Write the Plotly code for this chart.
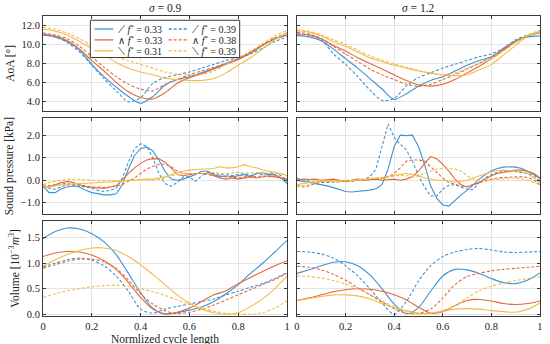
import plotly.graph_objects as go

# ---------------- data ----------------
X21 = [0, 0.05, 0.1, 0.15, 0.2, 0.25, 0.3, 0.35, 0.4, 0.45, 0.5,
       0.55, 0.6, 0.65, 0.7, 0.75, 0.8, 0.85, 0.9, 0.95, 1.0]
X41 = [0, 0.025, 0.05, 0.075, 0.1, 0.125, 0.15, 0.175, 0.2, 0.225, 0.25,
       0.275, 0.3, 0.325, 0.35, 0.375, 0.4, 0.425, 0.45, 0.475, 0.5,
       0.525, 0.55, 0.575, 0.6, 0.625, 0.65, 0.675, 0.7, 0.725, 0.75,
       0.775, 0.8, 0.825, 0.85, 0.875, 0.9, 0.925, 0.95, 0.975, 1.0]

legend_labels = ["⟋ <i>f</i><sup>*</sup> = 0.33", "⟋ <i>f</i><sup>*</sup> = 0.39",
                 "∧ <i>f</i><sup>*</sup> = 0.33", "∧ <i>f</i><sup>*</sup> = 0.38",
                 "⟍ <i>f</i><sup>*</sup> = 0.31", "⟍ <i>f</i><sup>*</sup> = 0.39"]
panel_titles = ["<i>σ</i> = 0.9", "<i>σ</i> = 1.2"]
y_titles = ["AoA [°]", "Sound pressure [kPa]", "Volume [10<sup>−3</sup><i>m</i><sup>3</sup>]"]
x_title = "Normlized cycle length"

# AoA, sigma = 0.9 (left)
aoa_L_b1 = [11.0, 10.8, 10.3, 9.4, 7.9, 6.6, 5.5, 4.5, 3.8, 4.5, 5.7, 6.3, 6.6, 7.0, 7.5, 8.0, 8.5, 9.1, 9.9, 10.6, 11.0]
aoa_L_b2 = [11.0, 10.8, 10.2, 9.2, 7.8, 6.4, 5.1, 3.95, 4.4, 5.9, 6.5, 6.8, 7.1, 7.5, 7.9, 8.3, 8.6, 9.0, 9.6, 10.3, 10.8]
aoa_L_o1 = [11.1, 10.9, 10.4, 9.5, 8.3, 7.2, 6.0, 5.0, 4.4, 4.25, 4.9, 5.9, 6.5, 6.9, 7.4, 7.9, 8.4, 9.1, 9.9, 10.6, 11.0]
aoa_L_o2 = [11.2, 11.0, 10.6, 9.8, 8.7, 7.6, 6.6, 5.8, 5.3, 5.1, 5.8, 6.3, 6.8, 7.2, 7.6, 8.0, 8.5, 9.2, 10.0, 10.7, 11.2]
aoa_L_y1 = [11.6, 11.4, 11.0, 10.3, 9.6, 8.9, 8.1, 7.5, 7.1, 6.8, 6.45, 6.3, 6.2, 6.2, 6.4, 7.0, 7.8, 8.6, 9.5, 10.5, 11.3]
aoa_L_y2 = [11.8, 11.6, 11.2, 10.6, 9.9, 9.2, 8.7, 8.3, 7.9, 7.5, 7.1, 6.85, 6.8, 6.85, 7.2, 7.9, 8.6, 9.3, 10.1, 10.9, 11.5]
# AoA, sigma = 1.2 (right)
aoa_R_b1 = [10.93, 10.8, 10.4, 9.5, 8.5, 7.5, 6.4, 5.3, 4.2, 4.8, 5.6, 6.2, 6.6, 7.2, 7.8, 8.3, 8.7, 9.6, 10.4, 10.8, 10.9]
aoa_R_b2 = [11.1, 11.0, 10.5, 9.0, 7.9, 6.6, 5.2, 4.1, 4.3, 5.6, 6.5, 7.0, 7.5, 7.9, 8.3, 8.7, 9.0, 9.6, 10.5, 11.0, 11.3]
aoa_R_o1 = [11.1, 11.0, 10.6, 9.9, 9.3, 8.6, 8.0, 7.4, 6.8, 6.2, 5.75, 5.6, 5.8, 6.3, 7.0, 7.7, 8.5, 9.4, 10.3, 10.9, 11.2]
aoa_R_o2 = [11.3, 11.1, 10.6, 9.8, 9.0, 8.2, 7.4, 6.8, 6.3, 5.8, 5.6, 5.8, 6.3, 6.8, 7.4, 8.0, 8.7, 9.5, 10.3, 10.9, 11.35]
aoa_R_y1 = [11.45, 11.3, 10.9, 10.3, 9.8, 9.2, 8.6, 8.2, 7.8, 7.5, 7.2, 7.0, 6.8, 6.7, 6.8, 7.3, 7.9, 8.9, 9.9, 10.9, 11.3]
aoa_R_y2 = [11.55, 11.4, 11.0, 10.5, 10.0, 9.4, 8.8, 8.35, 7.95, 7.6, 7.25, 6.95, 6.8, 7.0, 7.5, 8.0, 8.5, 9.3, 10.2, 11.0, 11.5]

# Sound pressure, sigma = 0.9 (left)
sp_L_b1 = [-0.25, -0.55, -0.55, -0.38, -0.3, -0.26, -0.3, -0.45, -0.55, -0.6, -0.65, -0.65, -0.6, -0.2, 0.5, 1.1, 1.4, 1.48, 1.3, 0.9, 0.4,
           0.05, 0.0, 0.05, 0.15, 0.25, 0.4, 0.4, 0.25, 0.15, 0.2, 0.15, 0.2, 0.25, 0.15, 0.3, 0.33, 0.25, 0.25, 0.1, -0.15]
sp_L_b2 = [-0.3, -0.35, -0.4, -0.3, -0.2, -0.22, -0.25, -0.3, -0.35, -0.45, -0.5, -0.45, -0.35, 0.1, 0.8, 1.4, 1.62, 1.5, 1.0, 0.3, -0.15,
           -0.27, -0.1, 0.15, 0.15, -0.05, 0.2, 0.35, 0.3, 0.25, 0.3, 0.2, 0.25, 0.3, 0.2, 0.3, 0.25, 0.3, 0.35, 0.2, 0.0]
sp_L_o1 = [-0.3, -0.3, -0.2, -0.1, -0.05, -0.1, -0.2, -0.28, -0.32, -0.35, -0.36, -0.3, -0.25, 0.0, 0.3, 0.55, 0.75, 0.9, 0.96, 0.95, 0.8,
           0.55, 0.25, 0.2, 0.25, 0.3, 0.3, 0.3, 0.2, 0.1, 0.05, 0.1, 0.05, 0.1, 0.15, 0.1, 0.15, 0.2, 0.15, 0.1, 0.05]
sp_L_o2 = [-0.2, -0.25, -0.2, -0.15, -0.15, -0.2, -0.2, -0.25, -0.3, -0.3, -0.32, -0.3, -0.25, -0.2, -0.05, 0.1, 0.3, 0.5, 0.62, 0.7, 0.72,
           0.6, 0.4, 0.3, 0.28, 0.3, 0.3, 0.25, 0.2, 0.2, 0.15, 0.15, 0.1, 0.15, 0.2, 0.15, 0.2, 0.15, 0.2, 0.1, 0.0]
sp_L_y1 = [-0.35, -0.3, -0.25, -0.2, -0.2, -0.15, -0.15, -0.15, -0.12, -0.1, -0.1, -0.08, -0.05, -0.05, -0.02, 0.0, 0.03, 0.05, 0.05, 0.1, 0.15,
           0.25, 0.33, 0.4, 0.45, 0.48, 0.5, 0.5, 0.52, 0.6, 0.55, 0.55, 0.6, 0.7, 0.6, 0.55, 0.45, 0.4, 0.35, 0.3, 0.2]
sp_L_y2 = [-0.2, -0.1, -0.05, 0.0, 0.05, 0.05, 0.03, 0.0, 0.0, -0.02, -0.03, -0.03, -0.02, 0.0, 0.0, 0.02, 0.03, 0.0, 0.0, 0.03, 0.1,
           0.2, 0.25, 0.3, 0.3, 0.3, 0.28, 0.3, 0.35, 0.3, 0.3, 0.32, 0.35, 0.3, 0.32, 0.35, 0.35, 0.3, 0.3, 0.3, 0.2]
# Sound pressure, sigma = 1.2 (right)
sp_R_b1 = [0.0, -0.05, -0.1, -0.12, -0.18, -0.25, -0.33, -0.42, -0.5, -0.52, -0.5, -0.48, -0.44, -0.38, -0.2, 0.5, 1.5, 2.0, 1.98, 2.0, 1.5,
           0.7, -0.25, -0.8, -1.1, -1.15, -0.88, -0.65, -0.45, -0.2, 0.05, 0.25, 0.42, 0.52, 0.58, 0.6, 0.58, 0.52, 0.4, 0.25, 0.08]
sp_R_b2 = [0.08, 0.0, -0.05, -0.08, -0.1, -0.1, -0.08, -0.05, -0.05, -0.06, 0.0, 0.05, 0.15, 0.5, 1.5, 2.5, 1.9, 1.6, 1.35, 0.85, 0.2,
           -0.3, -0.7, -0.7, -0.4, -0.22, -0.2, -0.3, -0.4, -0.42, -0.1, 0.1, 0.25, 0.35, 0.38, 0.4, 0.38, 0.35, 0.3, 0.2, -0.05]
sp_R_o1 = [0.0, 0.05, 0.03, 0.05, 0.0, 0.03, 0.05, 0.0, -0.03, 0.0, 0.05, 0.0, 0.03, 0.05, 0.0, 0.03, 0.05, 0.0, 0.05, 0.15, 0.4,
           0.75, 1.05, 0.95, 0.7, 0.4, 0.05, -0.2, -0.3, -0.2, -0.1, 0.05, 0.2, 0.3, 0.35, 0.4, 0.45, 0.45, 0.4, 0.3, 0.1]
sp_R_o2 = [-0.2, -0.3, -0.25, -0.15, -0.1, -0.05, -0.05, -0.03, -0.05, -0.02, 0.0, 0.02, 0.03, 0.05, 0.08, 0.15, 0.3, 0.55, 0.85, 0.9, 0.9,
           0.85, 0.6, 0.35, 0.1, -0.1, -0.18, -0.25, -0.28, -0.2, -0.1, -0.02, 0.05, 0.1, 0.12, 0.15, 0.15, 0.15, 0.12, 0.0, -0.2]
sp_R_y1 = [-0.2, -0.15, -0.1, -0.05, -0.05, -0.03, -0.05, -0.05, 0.0, -0.02, 0.0, 0.03, 0.05, 0.1, 0.12, 0.18, 0.22, 0.28, 0.3, 0.25, 0.2,
           0.1, 0.05, 0.0, 0.0, -0.05, -0.08, -0.05, 0.0, 0.1, 0.2, 0.3, 0.38, 0.42, 0.45, 0.42, 0.4, 0.38, 0.3, 0.1, -0.15]
sp_R_y2 = [-0.3, -0.25, -0.2, -0.1, -0.05, -0.05, -0.05, -0.02, 0.0, 0.0, 0.02, 0.05, 0.08, 0.1, 0.1, 0.15, 0.2, 0.22, 0.2, 0.15, 0.2,
           0.3, 0.42, 0.5, 0.52, 0.52, 0.5, 0.4, 0.2, 0.05, 0.0, 0.0, 0.02, 0.05, 0.05, 0.08, 0.1, 0.05, 0.0, -0.1, -0.2]

# Volume, sigma = 0.9 (left)
vol_L_b1 = [1.48, 1.62, 1.69, 1.67, 1.58, 1.42, 1.17, 0.8, 0.42, 0.12, 0.0, 0.03, 0.08, 0.14, 0.25, 0.4, 0.58, 0.8, 1.0, 1.22, 1.45]
vol_L_b2 = [0.93, 1.0, 1.07, 1.1, 1.06, 0.95, 0.75, 0.45, 0.1, 0.02, 0.1, 0.15, 0.2, 0.25, 0.3, 0.38, 0.45, 0.53, 0.6, 0.7, 0.82]
vol_L_o1 = [1.13, 1.2, 1.23, 1.22, 1.16, 1.05, 0.88, 0.62, 0.33, 0.1, 0.01, 0.04, 0.12, 0.25, 0.38, 0.46, 0.6, 0.72, 0.84, 0.95, 1.05]
vol_L_o2 = [0.9, 0.97, 1.04, 1.08, 1.08, 1.03, 0.9, 0.67, 0.4, 0.2, 0.07, 0.01, 0.04, 0.1, 0.18, 0.28, 0.38, 0.48, 0.58, 0.68, 0.8]
vol_L_y1 = [0.95, 1.07, 1.17, 1.25, 1.3, 1.3, 1.25, 1.13, 0.97, 0.78, 0.58, 0.38, 0.22, 0.1, 0.03, 0.0, 0.03, 0.15, 0.3, 0.5, 0.75]
vol_L_y2 = [0.33, 0.4, 0.46, 0.5, 0.54, 0.56, 0.57, 0.55, 0.5, 0.44, 0.37, 0.28, 0.2, 0.12, 0.06, 0.02, 0.0, 0.0, 0.03, 0.12, 0.26]
# Volume, sigma = 1.2 (right)
vol_R_b1 = [0.8, 0.87, 0.95, 1.02, 1.03, 0.95, 0.77, 0.5, 0.2, 0.01, 0.13, 0.45, 0.75, 0.88, 0.87, 0.8, 0.7, 0.62, 0.6, 0.67, 0.81]
vol_R_b2 = [1.23, 1.22, 1.18, 1.1, 0.95, 0.75, 0.5, 0.22, 0.0, 0.25, 0.65, 0.95, 1.13, 1.22, 1.27, 1.29, 1.26, 1.22, 1.21, 1.22, 1.23]
vol_R_o1 = [0.27, 0.32, 0.38, 0.44, 0.48, 0.5, 0.49, 0.45, 0.38, 0.28, 0.14, 0.02, 0.05, 0.17, 0.27, 0.29, 0.26, 0.21, 0.19, 0.21, 0.26]
vol_R_o2 = [0.94, 0.92, 0.87, 0.78, 0.67, 0.52, 0.38, 0.24, 0.11, 0.02, 0.02, 0.1, 0.32, 0.58, 0.74, 0.8, 0.85, 0.88, 0.9, 0.92, 0.94]
vol_R_y1 = [0.27, 0.31, 0.35, 0.38, 0.38, 0.36, 0.3, 0.21, 0.13, 0.07, 0.02, 0.02, 0.06, 0.1, 0.11, 0.1, 0.07, 0.05, 0.04, 0.1, 0.22]
vol_R_y2 = [0.75, 0.74, 0.71, 0.66, 0.59, 0.5, 0.39, 0.26, 0.14, 0.05, 0.0, 0.02, 0.07, 0.17, 0.32, 0.46, 0.55, 0.61, 0.66, 0.7, 0.73]

xticks = [0, 0.2, 0.4, 0.6, 0.8, 1]
xticklabels = ["0", "0.2", "0.4", "0.6", "0.8", "1"]
row_yticks = [[4, 6, 8, 10, 12], [-1, 0, 1, 2], [0, 0.5, 1, 1.5]]
row_yranges = [[3, 13], [-1.5, 2.75], [-0.035, 1.83]]

# ---------------- styling ----------------
COLORS = ["#3D93D4", "#E2693B", "#F1BC45"]
DASHES = ["solid", "3px,2px"]
FONT = "Liberation Serif, DejaVu Serif, serif"
AX_COL = "#3a3a3a"
GRID = "#e4e4e4"
TXT = "#222"

series = [
    [[aoa_L_b1, aoa_L_b2, aoa_L_o1, aoa_L_o2, aoa_L_y1, aoa_L_y2],
     [aoa_R_b1, aoa_R_b2, aoa_R_o1, aoa_R_o2, aoa_R_y1, aoa_R_y2]],
    [[sp_L_b1, sp_L_b2, sp_L_o1, sp_L_o2, sp_L_y1, sp_L_y2],
     [sp_R_b1, sp_R_b2, sp_R_o1, sp_R_o2, sp_R_y1, sp_R_y2]],
    [[vol_L_b1, vol_L_b2, vol_L_o1, vol_L_o2, vol_L_y1, vol_L_y2],
     [vol_R_b1, vol_R_b2, vol_R_o1, vol_R_o2, vol_R_y1, vol_R_y2]],
]
row_x = [X21, X41, X21]
row_shape = ["spline", "linear", "spline"]

fig = go.Figure()

x_domains = [[0.0, 0.491], [0.511, 1.0]]
y_domains = [[0.684, 1.0], [0.34, 0.659], [0.0, 0.317]]

layout = {}
for r in range(3):
    for c in range(2):
        idx = r * 2 + c + 1
        xa = "x" if idx == 1 else f"x{idx}"
        ya = "y" if idx == 1 else f"y{idx}"
        for k, vals in enumerate(series[r][c]):
            fig.add_trace(go.Scatter(
                x=row_x[r], y=vals, mode="lines", xaxis=xa, yaxis=ya,
                line=dict(color=COLORS[k // 2], width=1.1, dash=DASHES[k % 2],
                          shape=row_shape[r], smoothing=0.8),
                showlegend=False, hoverinfo="skip"))
        common = dict(showline=True, linecolor=AX_COL, linewidth=1, mirror="ticks",
                      ticks="inside", ticklen=3, tickcolor=AX_COL,
                      showgrid=True, gridcolor=GRID, gridwidth=1, zeroline=False,
                      ticklabeloverflow="allow",
                      tickfont=dict(family=FONT, size=10.5, color=TXT))
        xkey = "xaxis" if idx == 1 else f"xaxis{idx}"
        ykey = "yaxis" if idx == 1 else f"yaxis{idx}"
        layout[xkey] = dict(common, domain=x_domains[c], anchor=ya, range=[0, 1],
                            tickvals=xticks, ticktext=xticklabels,
                            showticklabels=(r == 2))
        layout[ykey] = dict(common, domain=y_domains[r], anchor=xa,
                            range=row_yranges[r], tickvals=row_yticks[r],
                            tickformat=".1f", showticklabels=(c == 0))
        if c == 0:
            layout[ykey]["title"] = dict(text=y_titles[r], standoff=4,
                                         font=dict(family=FONT, size=11.5, color=TXT))

fig.update_layout(**layout)

annotations = []
for c in range(2):
    xa = "x" if c == 0 else "x2"
    ya = "y" if c == 0 else "y2"
    annotations.append(dict(text=panel_titles[c], xref=f"{xa} domain", yref=f"{ya} domain",
                            x=0.5, y=1.0, yanchor="bottom", showarrow=False, yshift=0,
                            font=dict(family=FONT, size=11.5, color=TXT)))
# x-axis title under the bottom-left panel
annotations.append(dict(text=x_title, xref="x5 domain", yref="y5 domain", x=0.5, y=0,
                        yanchor="top", yshift=-14.5, showarrow=False,
                        font=dict(family=FONT, size=11.5, color=TXT)))

# legend box (drawn in the top-left panel)
shapes = [dict(type="rect", xref="x domain", yref="y domain", x0=0.194, x1=0.806,
               y0=0.562, y1=0.955, line=dict(color=AX_COL, width=1),
               fillcolor="white", layer="above")]
row_yd = [0.863, 0.748, 0.633]
col_line = [[0.211, 0.288], [0.515, 0.592]]
col_text = [0.298, 0.602]
for k, lab in enumerate(legend_labels):
    col = k % 2
    row = k // 2
    shapes.append(dict(type="line", xref="x domain", yref="y domain",
                       x0=col_line[col][0], x1=col_line[col][1],
                       y0=row_yd[row], y1=row_yd[row], layer="above",
                       line=dict(color=COLORS[row], width=1.3, dash=DASHES[col])))
    annotations.append(dict(text=lab, xref="x domain", yref="y domain",
                            x=col_text[col], y=row_yd[row], xanchor="left", yanchor="middle",
                            showarrow=False, font=dict(family=FONT, size=10, color=TXT)))

fig.update_layout(
    width=550, height=344,
    margin=dict(l=43, r=7, t=16, b=28),
    paper_bgcolor="white", plot_bgcolor="white",
    showlegend=False,
    annotations=annotations, shapes=shapes,
)

fig.write_html("out.html", config={"displayModeBar": False},
               post_script="document.body.style.margin='0';document.body.style.overflow='hidden';")
